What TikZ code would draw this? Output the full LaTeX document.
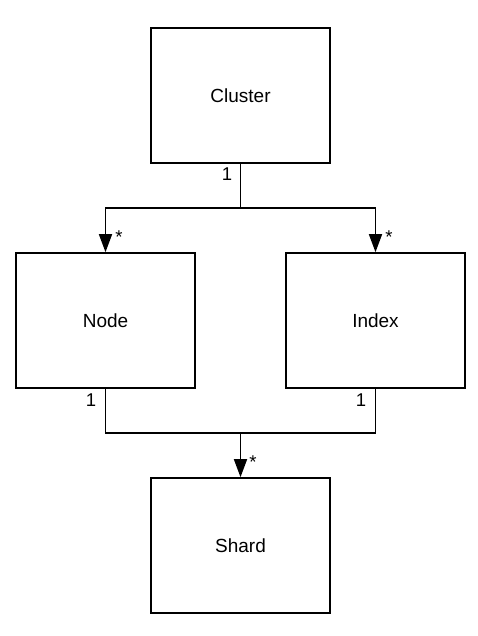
\documentclass[tikz,border=0pt]{standalone}
\usepackage{fontspec}
\setmainfont{Liberation Sans}
\usetikzlibrary{arrows.meta}
\begin{document}
\begin{tikzpicture}[x=1pt,y=-1pt,
  box/.style={draw,line width=1.6pt,minimum width=179pt,minimum height=135pt,inner sep=0pt,font=\fontsize{19}{21}\selectfont},
  conn/.style={line width=1.6pt},
  arr/.style={conn,-{Triangle[length=18pt,width=13pt]}},
  lbl/.style={inner sep=0pt,font=\fontsize{18.5}{20}\selectfont}]
\useasboundingbox (0,0) rectangle (478,636);
\node[box] (cl) at (240.5,95.5) {Cluster};
\node[box] (nd) at (105.5,320.5) {Node};
\node[box] (ix) at (375.5,320.5) {Index};
\node[box] (sh) at (240.5,545.5) {Shard};
\coordinate (j1) at (240.5,208);
\coordinate (j2) at (240.5,433);
\draw[conn] (cl.south) -- (j1);
\draw[arr] (j1) -| (nd.north);
\draw[arr] (j1) -| (ix.north);
\draw[conn] (nd.south) |- (j2);
\draw[conn] (ix.south) |- (j2);
\draw[arr] (j2) -- (sh.north);
\node[lbl] (l1) at (227,174) {1};
\node[lbl] (s1) at (119,237) {*};
\node[lbl] (s2) at (389,237) {*};
\node[lbl] (l2) at (91,400) {1};
\node[lbl] (l3) at (361,400) {1};
\node[lbl] (s3) at (253,462) {*};
\end{tikzpicture}
\end{document}
